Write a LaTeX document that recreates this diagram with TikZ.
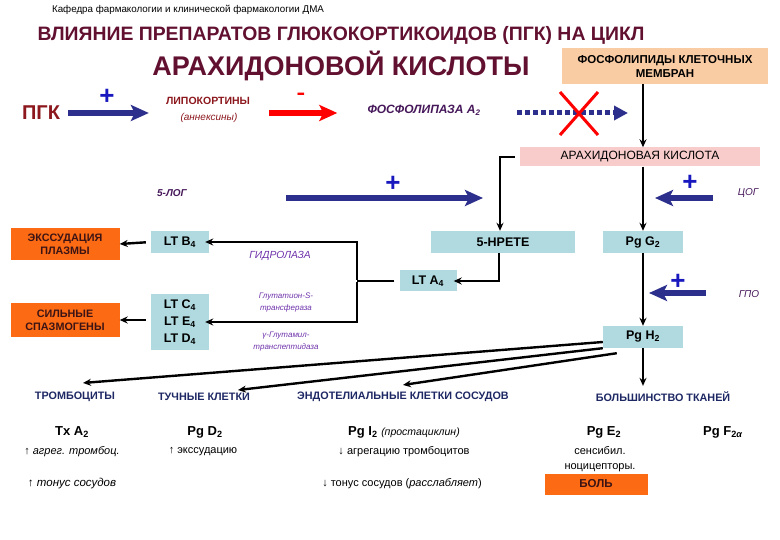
\documentclass[tikz,border=0pt]{standalone}
\usepackage{fontspec}
\setmainfont{Liberation Sans}
\usetikzlibrary{positioning, arrows.meta}
\definecolor{titlered}{RGB}{98,16,48}
\definecolor{pgkred}{RGB}{140,24,30}
\definecolor{navy}{RGB}{44,48,140}
\definecolor{plusblue}{RGB}{24,24,190}
\definecolor{enzpurple}{RGB}{70,24,90}
\definecolor{violet}{RGB}{110,50,170}
\definecolor{peach}{RGB}{250,204,164}
\definecolor{rosy}{RGB}{249,204,204}
\definecolor{ltblue}{RGB}{176,218,224}
\definecolor{orng}{RGB}{252,106,20}
\definecolor{navytxt}{RGB}{30,40,100}
\definecolor{darktxt}{RGB}{60,20,20}
\tikzset{>={Stealth[length=8pt,width=7pt]},
flow/.style={->, line width=2.4pt},
conn/.style={line width=2.4pt},
push/.style={-{Stealth[length=18pt,width=16pt,inset=4pt]}, line width=6pt, draw=navy},
box/.style={inner sep=0pt, align=center, font=\bfseries\fontsize{12.5}{15}\selectfont},
ltbox/.style={box, fill=ltblue, minimum height=22pt},
orbox/.style={box, fill=orng, text=darktxt, minimum width=109pt, font=\bfseries\fontsize{10.8}{13}\selectfont},
enz/.style={inner sep=0pt, font=\bfseries\itshape\fontsize{10}{12}\selectfont, text=enzpurple},
note/.style={inner sep=0pt, align=center, text=violet, font=\itshape\fontsize{8}{12}\selectfont},
plus/.style={inner sep=0pt, font=\bfseries\fontsize{26}{26}\selectfont, text=plusblue},
cell/.style={inner sep=0pt, font=\bfseries\fontsize{10.8}{13}\selectfont, text=navytxt},
med/.style={inner sep=0pt, font=\bfseries\fontsize{13}{15}\selectfont},
eff/.style={inner sep=0pt, align=center, font=\fontsize{11}{15}\selectfont}
}

\begin{document}
\begin{tikzpicture}[x=1pt,y=-1pt]
\useasboundingbox (0,0) rectangle (780,540);
% headings
\node[inner sep=0pt, font=\fontsize{9.8}{11}\selectfont] (dept) at (188,10) {Кафедра фармакологии и клинической фармакологии ДМА};
\node[inner sep=0pt, text=titlered, font=\bfseries\fontsize{19.4}{22}\selectfont] (title) at (341,35) {ВЛИЯНИЕ ПРЕПАРАТОВ ГЛЮКОКОРТИКОИДОВ (ПГК) НА ЦИКЛ};
\node[inner sep=0pt, text=titlered, font=\bfseries\fontsize{27}{30}\selectfont] (title2) at (341,66) {АРАХИДОНОВОЙ КИСЛОТЫ};
% top row
\node[box, fill=peach, minimum width=206pt, minimum height=36pt, font=\bfseries\fontsize{11.5}{14}\selectfont] (phos) at (665,66) {ФОСФОЛИПИДЫ КЛЕТОЧНЫХ\\МЕМБРАН};
\node[inner sep=0pt, text=pgkred, font=\bfseries\fontsize{20}{22}\selectfont] (pgk) at (41,113) {ПГК};
\node[inner sep=0pt, text=pgkred, font=\bfseries\fontsize{10.5}{12}\selectfont] (lipo) at (208,101) {ЛИПОКОРТИНЫ};
\node[inner sep=0pt, text=pgkred, font=\itshape\fontsize{10}{12}\selectfont] (annex) at (209,118) {(аннексины)};
\node[enz, font=\bfseries\itshape\fontsize{12}{14}\selectfont] (pla2) at (424,110) {ФОСФОЛИПАЗА А\textsubscript{2}};
\coordinate (blk) at (577,113);
\node[plus] (p1) at (107,97) {+};
\node[inner sep=0pt, text=red, xscale=1.3, font=\bfseries\fontsize{20}{20}\selectfont] (m1) at (301,96) {-};
% cascade
\node[box, fill=rosy, minimum width=240pt, minimum height=19pt, font=\fontsize{12}{14}\selectfont] (arach) at (640,157) {АРАХИДОНОВАЯ КИСЛОТА};
\node[ltbox, minimum width=144pt] (hpete) at (503,242) {5-HPETE};
\node[ltbox, minimum width=80pt] (pgg2) at (643,242) {Pg G\textsubscript{2}};
\node[ltbox, minimum width=58pt] (ltb4) at (180,242) {LT B\textsubscript{4}};
\node[orbox, minimum height=32pt] (exsud) at (65,244) {ЭКССУДАЦИЯ\\ПЛАЗМЫ};
\node[ltbox, minimum width=57pt, minimum height=21pt] (lta4) at (428,281) {LT A\textsubscript{4}};
\node[ltbox, minimum width=58pt, minimum height=56pt, font=\bfseries\fontsize{12.5}{17}\selectfont] (ltc) at (180,322) {LT C\textsubscript{4}\\LT E\textsubscript{4}\\LT D\textsubscript{4}};
\node[orbox, minimum height=34pt] (spasm) at (65,320) {СИЛЬНЫЕ\\СПАЗМОГЕНЫ};
\node[ltbox, minimum width=80pt] (pgh2) at (643,337) {Pg H\textsubscript{2}};
\coordinate (split) at (357,281);
% enzymes
\node[enz] (log5) at (172,193) {5-ЛОГ};
\node[enz, font=\itshape\fontsize{10}{12}\selectfont] (cog) at (748,193) {ЦОГ};
\node[enz, font=\itshape\fontsize{10}{12}\selectfont] (gpo) at (749,294) {ГПО};
\node[note, font=\itshape\fontsize{10.3}{12}\selectfont] (hydro) at (280,256) {ГИДРОЛАЗА};
\node[note] (gst) at (286,303) {Глутатион-S-\\трансфераза};
\node[note] (ggt) at (286,342) {γ-Глутамил-\\транспептидаза};
\coordinate (login) at (286,198);
\coordinate (cogin) at (713,198);
\coordinate (gpoin) at (706,293);
\node[plus] (p2) at (393,184) {+};
\node[plus] (p3) at (690,183) {+};
\node[plus] (p4) at (678,282) {+};
% targets
\node[cell] (thromb) at (75,397) {ТРОМБОЦИТЫ};
\node[cell] (mast) at (204,397) {ТУЧНЫЕ КЛЕТКИ};
\node[cell] (endo) at (403,397) {ЭНДОТЕЛИАЛЬНЫЕ КЛЕТКИ СОСУДОВ};
\node[cell] (most) at (663,397) {БОЛЬШИНСТВО ТКАНЕЙ};
\node[med] (txa2) at (72,432) {Tx A\textsubscript{2}};
\node[med] (pgd2) at (205,432) {Pg D\textsubscript{2}};
\node[med] (pgi2) at (404,432) {Pg I\textsubscript{2} \mdseries\itshape\fontsize{10.5}{12}\selectfont(простациклин)};
\node[med] (pge2) at (604,432) {Pg E\textsubscript{2}};
\node[med] (pgf) at (723,432) {Pg F\textsubscript{2\textit{α}}};
\node[eff, font=\itshape\fontsize{11}{15}\selectfont] (eff1) at (72,452) {↑ агрег. тромбоц.};
\node[eff] (eff2) at (203,452) {↑ экссудацию};
\node[eff] (eff3) at (404,452) {↓ агрегацию тромбоцитов};
\node[eff] (eff4) at (600,459) {сенсибил.\\ноцицепторы.};
\node[eff, font=\itshape\fontsize{11.5}{15}\selectfont] (eff5) at (72,484) {↑ тонус сосудов};
\node[eff] (eff6) at (402,484) {↓ тонус сосудов (\textit{расслабляет})};
\node[orbox, minimum width=103pt, minimum height=21pt, font=\bfseries\fontsize{11.5}{13}\selectfont] (pain) at (596,484) {БОЛЬ};
% connectors
\draw[push, shorten <=8pt, shorten >=17pt] (pgk.east) -- (lipo.west |- pgk.east);
\draw[push, draw=red, shorten <=19pt, shorten >=30pt] (lipo.east |- pgk.east) -- (pla2.west |- pgk.east);
\draw[-{Triangle[length=14pt,width=14pt]}, line width=5pt, draw=navy, dash pattern=on 5pt off 3pt] ([xshift=-60pt]blk) -- ([xshift=51pt]blk);
\draw[red, line width=3pt] ([shift={(-17,-21)}]blk) -- ([shift={(21,22)}]blk)
  ([shift={(21,-21)}]blk) -- ([shift={(-17,22)}]blk);
\draw[flow] (phos.south -| pgg2) -- (arach.north -| pgg2);
\draw[flow] (arach.south -| pgg2) -- (pgg2.north);
\draw[flow] (pgg2.south) -- (pgh2.north);
\draw[flow, shorten >=6pt] (pgh2.south) -- (pgh2.south |- most.north);
\draw[flow, shorten <=5pt] (arach.west) -| ([xshift=-3pt]hpete.north);
\draw[flow] ([xshift=-4pt]hpete.south) |- ([xshift=-3pt]lta4.east);
\draw[conn, shorten <=5pt] (lta4.west) -- (split);
\draw[flow] ([yshift=1pt]split) |- ([xshift=-4pt]ltb4.east);
\draw[flow] ([yshift=-1pt]split) |- ([xshift=-4pt]ltc.east);
\draw[flow, shorten <=5pt] (ltb4.west) -- (exsud.east);
\draw[flow, shorten <=5pt] (ltc.west |- spasm.east) -- (spasm.east);
\draw[push] (login) -- ([xshift=-20pt]hpete.north |- login);
\draw[push] (cogin) -- ([xshift=12pt]pgg2.north |- cogin);
\draw[push] (gpoin) -- ([xshift=6pt]pgh2.north |- gpoin);
\draw[flow] ([yshift=-5pt]pgh2.west) -- ([shift={(8,-9)}]thromb.north);
\draw[flow] (pgh2.south west) -- ([shift={(34,-3)}]mast.north);
\draw[flow] ([shift={(14,5)}]pgh2.south west) -- ([shift={(0,-7)}]endo.north);
\end{tikzpicture}
\end{document}
